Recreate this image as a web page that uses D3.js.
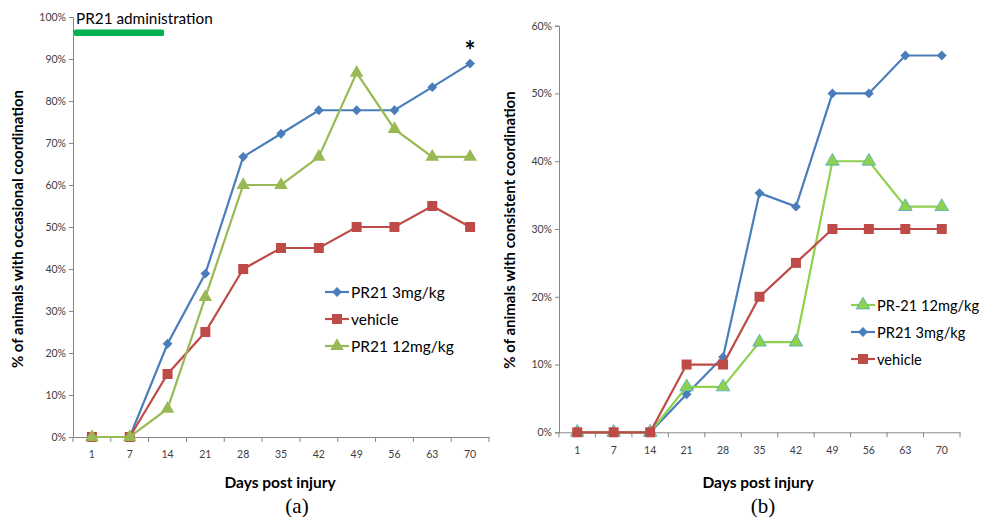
<!DOCTYPE html>
<html>
<head>
<meta charset="utf-8">
<script src="https://cdn.jsdelivr.net/npm/d3@7"></script>
<style>
  body { margin: 0; background: #fff; }
</style>
</head>
<body>
<svg id="chart" width="981" height="517" font-family="Lato, 'Open Sans', sans-serif"></svg>
<script>
var days = ["1", "7", "14", "21", "28", "35", "42", "49", "56", "63", "70"];

// panel (a) - occasional coordination (%)
var occ3mg = [0, 0, 22.2, 38.9, 66.7, 72.2, 77.8, 77.8, 77.8, 83.3, 88.9];
var occVehicle = [0, 0, 15, 25, 40, 45, 45, 50, 50, 55, 50];
var occ12mg = [0, 0, 6.7, 33.3, 60, 60, 66.7, 86.7, 73.3, 66.7, 66.7];
var occTicks = [0, 10, 20, 30, 40, 50, 60, 70, 80, 90, 100];

// panel (b) - consistent coordination (%)
var con12mg = [0, 0, 0, 6.7, 6.7, 13.3, 13.3, 40, 40, 33.3, 33.3];
var con3mg = [0, 0, 0, 5.6, 11.1, 35.3, 33.3, 50, 50, 55.6, 55.6];
var conVehicle = [0, 0, 0, 10, 10, 20, 25, 30, 30, 30, 30];
var conTicks = [0, 10, 20, 30, 40, 50, 60];

var blue = "#4a7ebb", red = "#be4b48", green = "#98b954", green2 = "#8fd14f";

var svg = d3.select("#chart");

function marker(sel, s) {
    sel.attr("d", d3.symbol().type(s.symbol).size(s.size))
        .attr("fill", s.color).attr("stroke", s.outline || "none").attr("stroke-width", 0.8);
}

function panel(opt) {
    var g = svg.append("g");
    var x = d3.scaleBand().domain(days).range([opt.left, opt.right]);
    var y = d3.scaleLinear().domain([0, opt.max]).range([opt.bottom, opt.top]);

    // y axis
    var ya = g.append("g").attr("transform", "translate(" + opt.left + ",0)")
        .call(d3.axisLeft(y).tickValues(opt.ticks).tickSize(4).tickFormat(function(d) { return d + "%" }));
    ya.attr("font-family", null);
    ya.select(".domain").attr("stroke", "#868686");
    ya.selectAll(".tick line").attr("stroke", "#868686");
    ya.selectAll(".tick text").attr("fill", "#404040").attr("font-size", 10.5).attr("x", -7);

    // x axis
    var xa = g.append("g").attr("transform", "translate(0," + opt.bottom + ")")
        .call(d3.axisBottom(x).tickSize(0).tickPadding(14));
    xa.attr("font-family", null);
    xa.select(".domain").attr("stroke", "#868686");
    xa.selectAll(".tick text").attr("fill", "#404040").attr("font-size", 10.5);
    var edges = days.map(function(d) { return x(d) }).concat([opt.right]);
    g.selectAll(".xt").data(edges).enter().append("line")
        .attr("x1", function(d) { return d }).attr("x2", function(d) { return d })
        .attr("y1", opt.bottom).attr("y2", opt.bottom + 5)
        .attr("stroke", "#868686");

    // series
    opt.series.forEach(function(s) {
        var pts = s.values.map(function(v, i) { return [x(days[i]) + x.bandwidth() / 2, y(v)] });
        g.append("path").attr("d", d3.line()(pts))
            .attr("fill", "none").attr("stroke", s.color).attr("stroke-width", 2.2);
        g.selectAll(null).data(pts).enter().append("path")
            .attr("transform", function(p) { return "translate(" + p[0] + "," + p[1] + ")" + (s.rot ? " rotate(45)" : "") })
            .call(marker, s);
    });

    // legend
    opt.legend.forEach(function(i, k) {
        var s = opt.series[i];
        var ly = opt.legY + k * opt.legStep;
        g.append("line").attr("x1", opt.legX).attr("x2", opt.legX + 24)
            .attr("y1", ly).attr("y2", ly).attr("stroke", s.color).attr("stroke-width", 2.2);
        g.append("path").attr("transform", "translate(" + (opt.legX + 12) + "," + ly + ")" + (s.rot ? " rotate(45)" : ""))
            .call(marker, s);
        g.append("text").attr("x", opt.legX + 26).attr("y", ly + 5.5)
            .attr("font-size", opt.legFont).attr("fill", "#000").text(s.name);
    });

    // axis titles
    g.append("text").attr("x", opt.titleX).attr("y", 488).attr("text-anchor", "middle")
        .attr("font-size", 15.5).attr("font-weight", "bold").text("Days post injury");
    g.append("text").attr("transform", "translate(" + opt.ylabX + "," + opt.ylabY + ") rotate(-90)")
        .attr("text-anchor", "middle").attr("font-size", 15).attr("font-weight", "bold").text(opt.ylab);
    g.append("text").attr("x", opt.capX).attr("y", 513).attr("text-anchor", "middle")
        .attr("font-family", "'Liberation Serif', 'DejaVu Serif', serif").attr("font-size", 21)
        .text(opt.cap);
    return { x: x, y: y, g: g };
}

var a = panel({
    left: 73, right: 489, top: 17, bottom: 437, max: 100, ticks: occTicks,
    series: [
        { name: "PR21 3mg/kg", values: occ3mg, color: blue, symbol: d3.symbolSquare, size: 48, rot: true },
        { name: "vehicle", values: occVehicle, color: red, symbol: d3.symbolSquare, size: 100 },
        { name: "PR21 12mg/kg", values: occ12mg, color: green, symbol: d3.symbolTriangle, size: 80 }
    ],
    legend: [0, 1, 2],
    legX: 325, legY: 292, legStep: 27, legFont: 15.5,
    ylab: "% of animals with occasional coordination", ylabX: 23, ylabY: 229,
    titleX: 280, cap: "(a)", capX: 297
});

var b = panel({
    left: 559, right: 960, top: 25.7, bottom: 432.3, max: 60, ticks: conTicks,
    series: [
        { name: "PR21 3mg/kg", values: con3mg, color: blue, symbol: d3.symbolSquare, size: 48, rot: true },
        { name: "PR-21 12mg/kg", values: con12mg, color: green2, symbol: d3.symbolTriangle, size: 80, outline: "#4bacc6" },
        { name: "vehicle", values: conVehicle, color: red, symbol: d3.symbolSquare, size: 100 }
    ],
    legend: [1, 0, 2],
    legX: 851, legY: 305, legStep: 27, legFont: 14.6,
    ylab: "% of animals with consistent coordination", ylabX: 515, ylabY: 230,
    titleX: 758, cap: "(b)", capX: 763
});

// PR21 administration marker on panel (a)
a.g.append("text").attr("x", 76).attr("y", 24).attr("font-size", 15.3).text("PR21 administration");
a.g.append("rect").attr("x", 74).attr("y", 29.5).attr("width", 90).attr("height", 6.5)
    .attr("rx", 1.5).attr("fill", "#00b050");
a.g.append("text").attr("x", a.x("70") + a.x.bandwidth() / 2).attr("y", 60)
    .attr("text-anchor", "middle").attr("font-size", 26).attr("font-weight", "bold").text("*");
</script>
</body>
</html>
